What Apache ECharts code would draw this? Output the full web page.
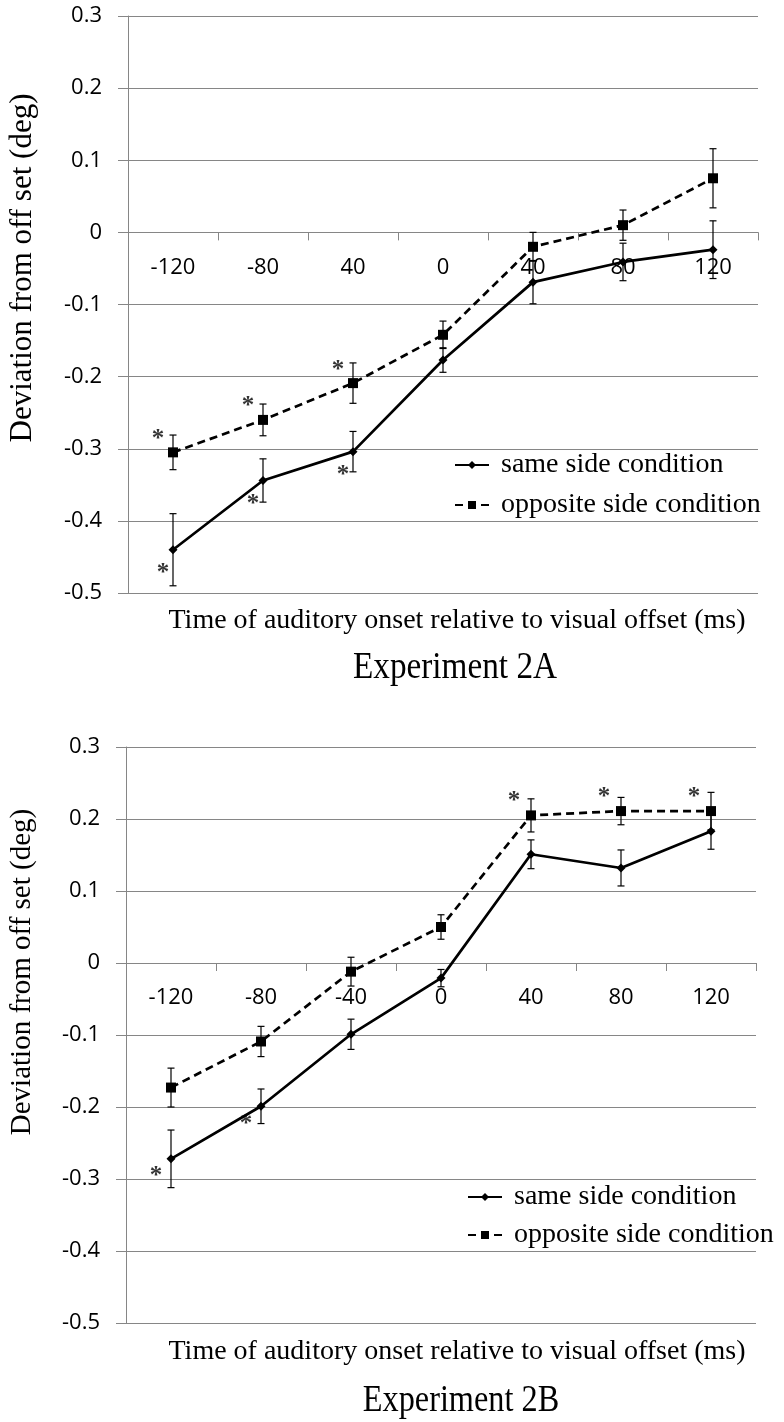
<!DOCTYPE html>
<html>
<head>
<meta charset="utf-8">
<script src="https://cdn.jsdelivr.net/npm/echarts@6/dist/echarts.min.js"></script>
<style>
html,body{margin:0;padding:0;background:#fff;}
#chart{width:784px;height:1422px;}
</style>
</head>
<body>
<div id="chart"></div>
<script>
// ---- Experiment 2A ----
var xLabelsA = ['-120', '-80', '40', '0', '40', '80', '120'];
var sameA = [-0.44, -0.344, -0.304, -0.177, -0.069, -0.041, -0.024];
var sameAErr = [0.05, 0.03, 0.028, 0.017, 0.03, 0.026, 0.04];
var oppA = [-0.305, -0.26, -0.209, -0.142, -0.02, 0.01, 0.075];
var oppAErr = [0.024, 0.022, 0.028, 0.019, 0.02, 0.021, 0.041];
var sigSameA = [1, 1, 1, 0, 0, 0, 0];
var sigOppA = [1, 1, 1, 0, 0, 0, 0];

// ---- Experiment 2B ----
var xLabelsB = ['-120', '-80', '-40', '0', '40', '80', '120'];
var sameB = [-0.272, -0.199, -0.099, -0.021, 0.151, 0.132, 0.183];
var sameBErr = [0.04, 0.024, 0.021, 0.012, 0.02, 0.025, 0.025];
var oppB = [-0.173, -0.109, -0.012, 0.05, 0.205, 0.211, 0.211];
var oppBErr = [0.027, 0.021, 0.02, 0.017, 0.023, 0.019, 0.026];
var sigSameB = [1, 1, 0, 0, 0, 0, 0];
var sigOppB = [0, 0, 0, 0, 1, 1, 1];

var yTicks = {min: -0.5, max: 0.3, interval: 0.1};
var seriesNames = ['same side condition', 'opposite side condition'];
var yTitle = 'Deviation from off set (deg)';
var xTitle = 'Time of auditory onset relative to visual offset (ms)';
var panelTitles = ['Experiment 2A', 'Experiment 2B'];

var GRID = '#868686';
var SERIF = '"Liberation Serif", "Times New Roman", serif';
var SANS = '"Open Sans", "Noto Sans", sans-serif';

var grids = [
  {left: 128, top: 16, width: 630, height: 577},
  {left: 126, top: 747, width: 630, height: 576}
];

var chart = echarts.init(document.getElementById('chart'), null, {renderer: 'canvas'});

function errData(vals, errs) {
  return vals.map(function (v, i) { return [i, v - errs[i], v + errs[i]]; });
}
function sigData(vals, sig) {
  var out = [];
  vals.forEach(function (v, i) { if (sig[i]) out.push([i, v]); });
  return out;
}
function renderErr(params, api) {
  var i = api.value(0);
  var lo = api.coord([i, api.value(1)]);
  var hi = api.coord([i, api.value(2)]);
  var w = 3.5;
  var st = {stroke: '#000', lineWidth: 1.2};
  return {
    type: 'group',
    children: [
      {type: 'line', shape: {x1: lo[0], y1: lo[1], x2: hi[0], y2: hi[1]}, style: st},
      {type: 'line', shape: {x1: lo[0] - w, y1: lo[1], x2: lo[0] + w, y2: lo[1]}, style: st},
      {type: 'line', shape: {x1: hi[0] - w, y1: hi[1], x2: hi[0] + w, y2: hi[1]}, style: st}
    ]
  };
}

// place the category axis on the zero line of the value scale (offset from grid bottom)
function zeroOffset(idx) {
  var h = grids[idx].height;
  return -h * (0 - yTicks.min) / (yTicks.max - yTicks.min);
}

function xAxisFor(idx, labels) {
  return {
    type: 'category', gridIndex: idx, data: labels, boundaryGap: true,
    position: 'bottom', offset: zeroOffset(idx),
    axisLine: {onZero: false, lineStyle: {color: GRID, width: 1}},
    axisTick: {show: true, interval: 0, length: 8, lineStyle: {color: GRID, width: 1}},
    axisLabel: {interval: 0, margin: 24, fontFamily: SANS, fontSize: 22, color: '#000'},
    splitLine: {show: false}
  };
}
function yAxisFor(idx) {
  return {
    type: 'value', gridIndex: idx, min: yTicks.min, max: yTicks.max, interval: yTicks.interval,
    axisLine: {show: true, lineStyle: {color: GRID, width: 1}},
    axisTick: {show: true, length: 10, lineStyle: {color: GRID, width: 1}},
    axisLabel: {margin: 26, fontFamily: SANS, fontSize: 22, color: '#000',
      formatter: function (v) { return String(Math.round(v * 10) / 10); }},
    splitLine: {show: true, lineStyle: {color: GRID, width: 1}}
  };
}
function starSeries(idx, data, off) {
  return {type: 'scatter', xAxisIndex: idx, yAxisIndex: idx, data: data,
    symbolSize: 0, silent: true, z: 5, itemStyle: {color: '#000'},
    label: {show: true, position: 'inside', offset: off, formatter: '*',
      fontFamily: SERIF, fontSize: 25, fontWeight: 'bold', color: '#000', textBorderWidth: 0}};
}
function panelSeries(idx, same, sameErr, opp, oppErr, sigS, sigO, offS, offO) {
  return [
    {type: 'custom', xAxisIndex: idx, yAxisIndex: idx, renderItem: renderErr,
      data: errData(same, sameErr), encode: {x: 0, y: [1, 2]}, z: 3, silent: true},
    {type: 'custom', xAxisIndex: idx, yAxisIndex: idx, renderItem: renderErr,
      data: errData(opp, oppErr), encode: {x: 0, y: [1, 2]}, z: 3, silent: true},
    {name: seriesNames[0], type: 'line', xAxisIndex: idx, yAxisIndex: idx, data: same,
      symbol: 'diamond', symbolSize: 9, showSymbol: true,
      itemStyle: {color: '#000'}, lineStyle: {color: '#000', width: 2.7, type: 'solid'}, z: 4},
    {name: seriesNames[1], type: 'line', xAxisIndex: idx, yAxisIndex: idx, data: opp,
      symbol: 'rect', symbolSize: 10, showSymbol: true,
      itemStyle: {color: '#000'}, lineStyle: {color: '#000', width: 2.7, type: [8, 5]}, z: 4},
    starSeries(idx, sigData(same, sigS), offS),
    starSeries(idx, sigData(opp, sigO), offO)
  ];
}

function legendFor(left, top, gap) {
  return {
    orient: 'vertical', left: left, top: top, itemWidth: 34, itemHeight: 10, itemGap: gap,
    data: seriesNames, selectedMode: false,
    textStyle: {fontFamily: SERIF, fontSize: 28, color: '#000', padding: [0, 0, 0, 7]}
  };
}

function textEl(str, x, y, size, rot, sx) {
  return {
    type: 'text', x: x, y: y, rotation: rot || 0, scaleX: sx || 1,
    style: {text: str, fontFamily: SERIF, fontSize: size, fill: '#000',
      align: 'center', verticalAlign: 'middle', textAlign: 'center', textVerticalAlign: 'middle'}
  };
}

var option = {
  animation: false,
  backgroundColor: '#fff',
  grid: grids.map(function (g) { return Object.assign({containLabel: false}, g); }),
  xAxis: [xAxisFor(0, xLabelsA), xAxisFor(1, xLabelsB)],
  yAxis: [yAxisFor(0), yAxisFor(1)],
  legend: [legendFor(449, 446, 12), legendFor(462, 1178, 10)],
  series: [].concat(
    panelSeries(0, sameA, sameAErr, oppA, oppAErr, sigSameA, sigOppA, [-10, 24], [-15, -13]),
    panelSeries(1, sameB, sameBErr, oppB, oppBErr, sigSameB, sigOppB, [-15, 18], [-17, -14])
  ),
  graphic: [
    textEl(yTitle, 23, 268, 31, Math.PI / 2),
    textEl(yTitle, 22, 972, 29, Math.PI / 2),
    textEl(xTitle, 457, 621, 28),
    textEl(xTitle, 457, 1352, 28),
    textEl(panelTitles[0], 455, 668, 38, 0, 0.875),
    textEl(panelTitles[1], 461, 1401, 38, 0, 0.85)
  ]
};
chart.setOption(option);
</script>
</body>
</html>
